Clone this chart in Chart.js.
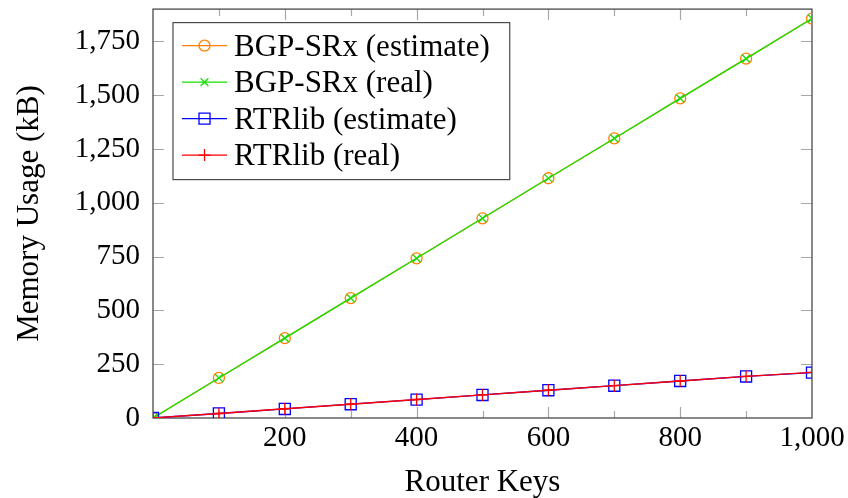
<!DOCTYPE html>
<html>
<head>
<meta charset="utf-8">
<script src="https://cdn.jsdelivr.net/npm/chart.js@4/dist/chart.umd.min.js"></script>
<style>
  html, body { margin: 0; padding: 0; background: #fff; }
  #wrap { width: 848px; height: 498px; }
</style>
</head>
<body>
<div id="wrap"><canvas id="c" width="848" height="498"></canvas></div>
<script>
// Number of router keys loaded (x axis)
const routerKeys = [0, 100, 200, 300, 400, 500, 600, 700, 800, 900, 1000];

// Memory usage in kB for each implementation
const bgpSrxEstimate = [0, 186, 371, 557, 742, 928, 1114, 1299, 1485, 1670, 1856];
const bgpSrxReal     = [0, 186, 371, 557, 742, 928, 1114, 1299, 1485, 1670, 1856];
const rtrlibEstimate = [0, 21, 42, 64, 85, 107, 129, 150, 172, 193, 211];
const rtrlibReal     = [0, 21, 43, 64, 86, 107, 129, 150, 172, 193, 212];

// Axis ticks
const xLabelledTicks = [200, 400, 600, 800, 1000];
const xTickMarks = [100, 200, 300, 400, 500, 600, 700, 800, 900];
const yTickValues = [0, 250, 500, 750, 1000, 1250, 1500, 1750];

const SERIF = "'Liberation Serif', 'Times New Roman', serif";
const fmt = v => Number(v).toLocaleString('en-US');

function series(ys) {
  return routerKeys.map((x, i) => ({ x: x, y: ys[i] }));
}

// Frame and inward-pointing tick marks on all four sides
const frameTicks = {
  id: 'frameTicks',
  beforeDatasetsDraw(chart) {
    const { ctx, chartArea: a, scales } = chart;
    const xs = scales.x, ys = scales.y;
    ctx.save();
    ctx.strokeStyle = '#a8a8a8';
    ctx.lineWidth = 1.2;
    ctx.beginPath();
    xTickMarks.forEach(v => {
      const px = Math.round(xs.getPixelForValue(v)) + 0.5;
      const len = (v % 200 === 0) ? 11 : 7;
      ctx.moveTo(px, a.bottom); ctx.lineTo(px, a.bottom - len);
      ctx.moveTo(px, a.top); ctx.lineTo(px, a.top + len);
    });
    yTickValues.forEach(v => {
      if (v === 0) return;
      const py = Math.round(ys.getPixelForValue(v)) + 0.5;
      ctx.moveTo(a.left, py); ctx.lineTo(a.left + 11, py);
      ctx.moveTo(a.right, py); ctx.lineTo(a.right - 11, py);
    });
    ctx.stroke();
    ctx.strokeStyle = '#4a4a4a';
    ctx.lineWidth = 1.3;
    ctx.strokeRect(a.left, a.top, a.right - a.left, a.bottom - a.top);
    ctx.restore();
  }
};

function drawMarker(ctx, ds, x, y) {
  ctx.save();
  ctx.strokeStyle = ds.pointBorderColor;
  ctx.fillStyle = 'rgba(0,0,0,0)';
  ctx.lineWidth = ds.pointBorderWidth;
  if (Chart.helpers && Chart.helpers.drawPoint) {
    Chart.helpers.drawPoint(ctx, {
      pointStyle: ds.pointStyle, radius: ds.pointRadius,
      borderWidth: ds.pointBorderWidth, rotation: 0
    }, x, y);
  }
  ctx.restore();
}

// Boxed legend in the upper-left corner of the plot area
const boxLegend = {
  id: 'boxLegend',
  afterDatasetsDraw(chart) {
    const { ctx, chartArea: a } = chart;
    const dsets = chart.data.datasets;
    ctx.save();
    ctx.font = '31px ' + SERIF;
    const maxText = Math.max(...dsets.map(d => ctx.measureText(d.label).width));
    const left = a.left + 20, top = a.top + 13.5;
    const rowH = 36.5;
    const w = 9 + 45 + 7 + maxText + 20;
    const h = 157;
    ctx.fillStyle = '#fff';
    ctx.fillRect(left, top, w, h);
    ctx.strokeStyle = '#4a4a4a';
    ctx.lineWidth = 1.2;
    ctx.strokeRect(left, top, w, h);
    dsets.forEach((d, i) => {
      const cy = top + 23 + i * rowH;
      const x0 = left + 9, x1 = x0 + 45;
      ctx.strokeStyle = d.borderColor;
      ctx.lineWidth = d.borderWidth;
      ctx.beginPath(); ctx.moveTo(x0, cy); ctx.lineTo(x1, cy); ctx.stroke();
      drawMarker(ctx, d, (x0 + x1) / 2, cy);
      ctx.fillStyle = '#000';
      ctx.textAlign = 'left';
      ctx.textBaseline = 'alphabetic';
      ctx.fillText(d.label, x1 + 7, cy + 10);
    });
    ctx.restore();
  }
};

function makeDataset(label, ys, color, style, radius, order) {
  return {
    label: label,
    data: series(ys),
    borderColor: color,
    borderWidth: 1.3,
    pointStyle: style,
    pointRadius: radius,
    pointHoverRadius: radius,
    pointBorderColor: color,
    pointBackgroundColor: 'rgba(0,0,0,0)',
    pointBorderWidth: 1.3,
    tension: 0,
    fill: false,
    order: order
  };
}

// Keep the plot area fixed: no extra room reserved for edge tick labels
function noEdgePadding(s) {
  s.paddingTop = 0; s.paddingBottom = 0;
  s.paddingLeft = 0; s.paddingRight = 0;
}

new Chart(document.getElementById('c'), {
  type: 'line',
  data: {
    datasets: [
      makeDataset('BGP-SRx (estimate)', bgpSrxEstimate, 'rgb(255,128,0)', 'circle', 5.5, 4),
      makeDataset('BGP-SRx (real)', bgpSrxReal, 'rgb(20,225,0)', 'crossRot', 5.5, 3),
      makeDataset('RTRlib (estimate)', rtrlibEstimate, 'rgb(0,0,255)', 'rect', 7.8, 2),
      makeDataset('RTRlib (real)', rtrlibReal, 'rgb(255,0,0)', 'cross', 6, 1)
    ]
  },
  options: {
    responsive: false,
    animation: false,
    devicePixelRatio: 1,
    layout: { padding: { left: 0, right: 36, top: 7.5, bottom: 0 } },
    plugins: { legend: { display: false }, tooltip: { enabled: false } },
    scales: {
      x: {
        type: 'linear',
        min: 0, max: 1000,
        grid: { display: false, drawTicks: false },
        border: { display: false },
        afterFit: s => { s.height = 80; noEdgePadding(s); },
        ticks: {
          stepSize: 100, autoSkip: false, maxRotation: 0, padding: 3,
          color: '#000', font: { family: SERIF, size: 29 },
          callback: v => xLabelledTicks.includes(v) ? fmt(v) : ''
        },
        title: {
          display: true, text: 'Router Keys', color: '#000',
          font: { family: SERIF, size: 31, lineHeight: 1 },
          padding: { top: 0, bottom: 0 }
        }
      },
      y: {
        type: 'linear',
        min: 0, max: 1900,
        grid: { display: false, drawTicks: false },
        border: { display: false },
        afterFit: s => { s.width = 153; noEdgePadding(s); },
        ticks: {
          stepSize: 250, includeBounds: false, padding: 13,
          color: '#000', font: { family: SERIF, size: 29 },
          callback: v => yTickValues.includes(v) ? fmt(v) : ''
        },
        title: {
          display: true, text: 'Memory Usage (kB)', color: '#000',
          font: { family: SERIF, size: 31, lineHeight: 1 },
          padding: { top: 14, bottom: 0 }
        }
      }
    }
  },
  plugins: [frameTicks, boxLegend]
});
</script>
</body>
</html>
